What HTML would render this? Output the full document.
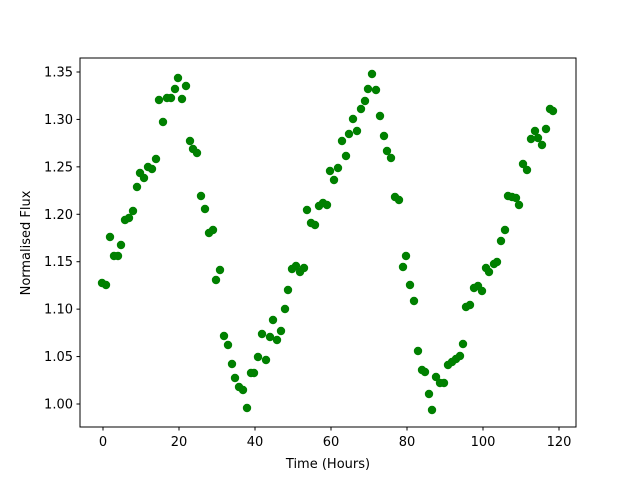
<!DOCTYPE html>
<html><head><meta charset="utf-8"><style>body{margin:0;background:#fff}svg{display:block}text{font-family:"DejaVu Sans","Liberation Sans",sans-serif;font-size:13px;fill:#000}</style></head>
<body>
<svg width="640" height="480" xmlns="http://www.w3.org/2000/svg">
<rect width="640" height="480" fill="#fff"/>
<g fill="#008000" id="pts"></g>
<rect x="80" y="58" width="496" height="369" fill="none" stroke="#000" stroke-width="1"/>
<g id="ticks" stroke="#000"></g>
<g id="labels"></g>
<text x="328" y="468" text-anchor="middle">Time (Hours)</text>
<text transform="translate(30,243) rotate(-90)" text-anchor="middle">Normalised Flux</text>
</svg>
<script>
var P=[[102,283],[106,285],[110,237],[114,256],[118,256],[121,245],[125,220],[129,218],[133,211],[137,187],[140,173],[144,178],[148,167],[152,169],[156,159],[159,100],[163,122],[167,98],[171,98],[175,89],[178,78],[182,99],[186,86],[190,141],[193,149],[197,153],[201,196],[205,209],[209,233],[213,230],[216,280],[220,270],[224,336],[228,345],[232,364],[235,378],[239,387],[243,390],[247,408],[251,373],[254,373],[258,357],[262,334],[266,360],[270,337],[273,320],[277,340],[281,331],[285,309],[288,290],[292,269],[296,266],[300,272],[304,268],[307,210],[311,223],[315,225],[319,206],[323,203],[327,205],[330,171],[334,180],[338,168],[342,141],[346,156],[349,134],[353,119],[357,131],[361,109],[365,101],[368,89],[372,74],[376,90],[380,116],[384,136],[387,151],[391,158],[395,197],[399,200],[403,267],[406,256],[410,285],[414,301],[418,351],[422,370],[425,372],[429,394],[432,410],[436,377],[440,383],[444,383],[448,365],[452,362],[456,359],[460,356],[463,344],[466,307],[470,305],[474,288],[478,286],[482,291],[486,268],[489,272],[494,264],[497,262],[501,241],[505,230],[508,196],[512,197],[516,198],[519,205],[523,164],[527,170],[531,139],[535,131],[538,138],[542,145],[546,129],[550,109],[553,111]];
var ns="http://www.w3.org/2000/svg",g=document.getElementById("pts"),t=document.getElementById("ticks"),l=document.getElementById("labels");
P.forEach(function(p){var c=document.createElementNS(ns,"circle");c.setAttribute("cx",p[0]);c.setAttribute("cy",p[1]);c.setAttribute("r",4.2);g.appendChild(c);});
function add(tag,a,txt,par){var e=document.createElementNS(ns,tag);for(var k in a)e.setAttribute(k,a[k]);if(txt)e.textContent=txt;par.appendChild(e);}
for(var i=0;i<=6;i++){var x=103+76*i;add("line",{x1:x,x2:x,y1:427,y2:430.5},null,t);add("text",{x:x,y:446,"text-anchor":"middle"},String(20*i),l);}
for(var j=0;j<=7;j++){var y=404-47.43*j;add("line",{x1:76.5,x2:80,y1:y,y2:y},null,t);add("text",{x:73,y:y+4.5,"text-anchor":"end"},(1+0.05*j).toFixed(2),l);}
</script>
</body></html>
